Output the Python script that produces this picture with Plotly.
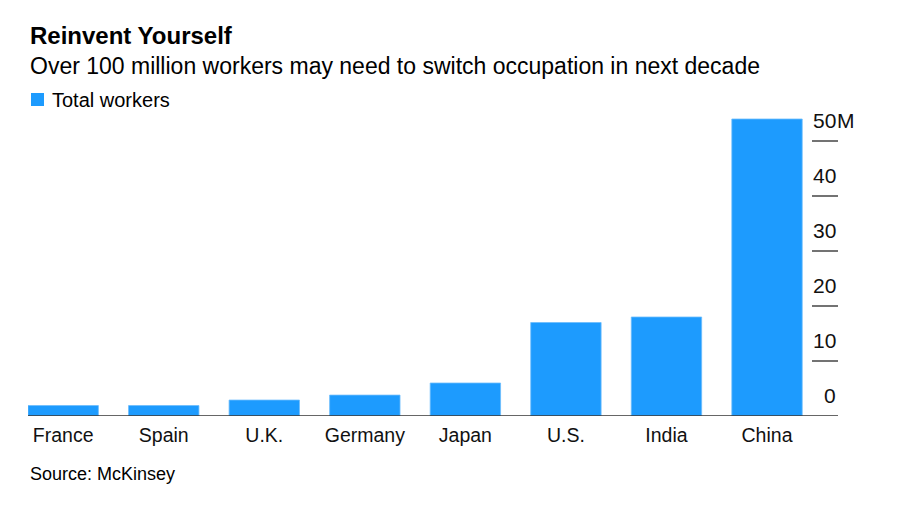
import plotly.graph_objects as go

countries = ["France", "Spain", "U.K.", "Germany", "Japan", "U.S.", "India", "China"]
workers = [1.9, 1.9, 2.9, 3.8, 6.0, 17.0, 18.0, 54.0]
tick_vals = [0, 10, 20, 30, 40, 50]
tick_text = ["0", "10", "20", "30", "40", "50"]
unit_suffix = "M"

BAR = "#1d9bfe"
FONT = "Liberation Sans, Arial, sans-serif"
OFF = 8  # page body margin
W, H = 921 - OFF, 510 - OFF
L, T = 28 - OFF, 108 - OFF
R = W - (838 - OFF)
B = H - (416 - OFF)
PW, PH = W - L - R, H - T - B
YMAX = 56

def px_to_py(ypx):
    return ((416 - ypx)) / PH

def px_to_px(xpx):
    return (xpx - 28) / PW

fig = go.Figure()
fig.add_trace(go.Bar(
    x=countries, y=workers, marker=dict(color=BAR, line=dict(color="#6cbcfc", width=0.8)),
    width=0.7, showlegend=False, hoverinfo="x+y",
))

shapes = []
annotations = []
# baseline
shapes.append(dict(type="line", xref="paper", yref="y", x0=0, x1=1, y0=0, y1=0,
                   line=dict(color="#333333", width=1.5), layer="above"))
for v, t in zip(tick_vals, tick_text):
    if v != 0:
        shapes.append(dict(type="line", xref="paper", yref="y", x0=px_to_px(812), x1=1,
                           y0=v, y1=v, line=dict(color="#444444", width=1.5)))
    annotations.append(dict(xref="paper", yref="y", x=1, y=v, text=t, showarrow=False,
                            xanchor="right", yanchor="bottom", yshift=7,
                            font=dict(family=FONT, size=21, color="#111111")))
annotations.append(dict(xref="paper", yref="y", x=1, y=tick_vals[-1], text=unit_suffix,
                        showarrow=False, xanchor="left", yanchor="bottom", yshift=7, xshift=-3.5,
                        font=dict(family=FONT, size=21, color="#111111")))

# titles
annotations.append(dict(xref="paper", yref="paper", x=0, y=px_to_py(36), text="<b>Reinvent Yourself</b>",
                        showarrow=False, xanchor="left", yanchor="middle",
                        font=dict(family=FONT, size=24, color="#000000")))
annotations.append(dict(xref="paper", yref="paper", x=0, y=px_to_py(66),
                        text="Over 100 million workers may need to switch occupation in next decade",
                        showarrow=False, xanchor="left", yanchor="middle",
                        font=dict(family=FONT, size=23, color="#000000")))
# legend
shapes.append(dict(type="rect", xref="paper", yref="paper",
                   x0=px_to_px(31), x1=px_to_px(44), y0=px_to_py(106), y1=px_to_py(93),
                   fillcolor=BAR, line=dict(width=0)))
annotations.append(dict(xref="paper", yref="paper", x=px_to_px(50), y=px_to_py(99.5), text="Total workers",
                        showarrow=False, xanchor="left", yanchor="middle",
                        font=dict(family=FONT, size=20, color="#000000")))
# source
annotations.append(dict(xref="paper", yref="paper", x=0, y=px_to_py(474), text="Source: McKinsey",
                        showarrow=False, xanchor="left", yanchor="middle",
                        font=dict(family=FONT, size=18, color="#000000")))

fig.update_layout(
    width=W, height=H, margin=dict(l=L, r=R, t=T, b=B),
    paper_bgcolor="white", plot_bgcolor="white",
    shapes=shapes, annotations=annotations,
    xaxis=dict(range=[-0.35, 7.706], showgrid=False, zeroline=False, showline=False,
               ticks="", ticklabelstandoff=5,
               tickfont=dict(family=FONT, size=19.5, color="#111111"), fixedrange=True),
    yaxis=dict(range=[0, YMAX], showgrid=False, zeroline=False, showline=False,
               showticklabels=False, ticks="", fixedrange=True),
    bargap=0.3,
)
fig.write_html("out.html", config=dict(displayModeBar=False))
